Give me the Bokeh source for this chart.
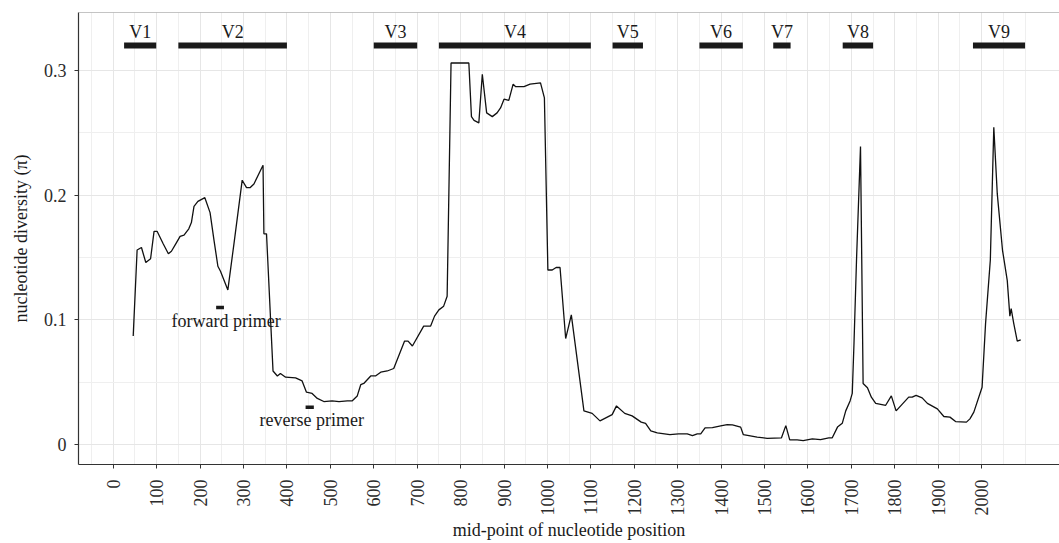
import math
from bokeh.plotting import figure
from bokeh.models import Range1d, FixedTicker, ColumnDataSource, Span
from bokeh.core.properties import value
from bokeh.embed import file_html
from bokeh.resources import INLINE

# ---- data ----
position = [46, 55, 65, 75, 86, 94, 101, 115, 127, 134, 144, 154, 163, 174, 180, 186, 195, 211, 223, 232,
            241, 247, 264, 278, 297, 307, 315, 324, 345, 347, 353, 368, 378, 385, 397, 420, 435, 445, 458, 470,
            485, 504, 520, 539, 550, 562, 570, 577, 593, 604, 616, 631, 646, 671, 679, 689, 715, 731, 740, 750,
            761, 769, 778, 819, 825, 831, 842, 850, 860, 873, 884, 892, 900, 911, 921, 927, 946, 960, 984, 993,
            1001, 1011, 1020, 1029, 1042, 1055, 1084, 1103, 1121, 1149, 1159, 1178, 1195, 1216, 1226, 1238, 1253, 1282, 1302, 1322,
            1334, 1345, 1353, 1363, 1380, 1399, 1414, 1426, 1445, 1451, 1464, 1483, 1506, 1539, 1549, 1558, 1575, 1589, 1610, 1629,
            1648, 1656, 1668, 1679, 1687, 1697, 1702, 1706, 1712, 1721, 1727, 1737, 1746, 1756, 1779, 1792, 1803, 1832, 1840, 1849,
            1863, 1875, 1898, 1913, 1927, 1940, 1965, 1973, 1982, 2001, 2009, 2020, 2028, 2036, 2048, 2059, 2065, 2068, 2074, 2082,
            2090]
diversity = [0.087, 0.156, 0.158, 0.146, 0.149, 0.171, 0.171, 0.161, 0.153, 0.155, 0.161, 0.167, 0.168, 0.173, 0.178, 0.191, 0.195, 0.198, 0.186, 0.164,
             0.143, 0.139, 0.124, 0.161, 0.212, 0.206, 0.206, 0.209, 0.224, 0.169, 0.169, 0.059, 0.055, 0.057, 0.054, 0.0535, 0.051, 0.042, 0.041, 0.037,
             0.0345, 0.035, 0.0345, 0.035, 0.035, 0.039, 0.048, 0.049, 0.055, 0.055, 0.058, 0.059, 0.061, 0.083, 0.083, 0.079, 0.095, 0.095, 0.103, 0.108,
             0.111, 0.119, 0.306, 0.306, 0.263, 0.260, 0.258, 0.297, 0.266, 0.263, 0.266, 0.270, 0.277, 0.276, 0.289, 0.287, 0.287, 0.289, 0.290, 0.278,
             0.140, 0.140, 0.142, 0.142, 0.085, 0.104, 0.027, 0.025, 0.019, 0.024, 0.031, 0.025, 0.023, 0.018, 0.017, 0.011, 0.0094, 0.008, 0.0086, 0.0086,
             0.0072, 0.0086, 0.0086, 0.0134, 0.0136, 0.015, 0.016, 0.0158, 0.014, 0.008, 0.0072, 0.006, 0.005, 0.0054, 0.0152, 0.0037, 0.0037, 0.0032, 0.0045, 0.004,
             0.0054, 0.0054, 0.014, 0.017, 0.027, 0.035, 0.041, 0.081, 0.150, 0.239, 0.049, 0.0455, 0.038, 0.033, 0.0315, 0.039, 0.027, 0.038, 0.038, 0.0395,
             0.0374, 0.033, 0.0286, 0.0225, 0.022, 0.0184, 0.018, 0.0206, 0.026, 0.046, 0.097, 0.148, 0.2545, 0.201, 0.156, 0.1315, 0.103, 0.109, 0.097, 0.083,
             0.084]

region_names = ["V1", "V2", "V3", "V4", "V5", "V6", "V7", "V8", "V9"]
region_start = [25, 150, 600, 750, 1150, 1350, 1520, 1680, 1980]
region_end = [99, 400, 700, 1100, 1220, 1450, 1560, 1750, 2100]

primer_names = ["forward primer", "reverse primer"]
primer_start = [237, 443]
primer_end = [255, 462]
primer_y = [0.11, 0.03]
primer_label_x = [260, 457]
primer_label_y = [0.099, 0.0195]

x_ticks = list(range(0, 2001, 100))
x_tick_labels = [str(t) for t in x_ticks]
y_ticks = [0, 0.1, 0.2, 0.3]
y_tick_labels = ["0", "0.1", "0.2", "0.3"]

X_TITLE = "mid-point of nucleotide position"
Y_TITLE = "nucleotide diversity (\u03c0)"

FONT = "Liberation Serif"
X_MIN, X_MAX = -80, 2179.3
Y_MIN, Y_MAX = -0.016, 0.3465

p = figure(width=1059, height=543, output_backend="svg", toolbar_location=None,
           x_range=Range1d(X_MIN, X_MAX), y_range=Range1d(Y_MIN, Y_MAX),
           min_border_left=78, min_border_right=0, min_border_top=12, min_border_bottom=79)
p.background_fill_color = "white"
p.border_fill_color = "white"
p.outline_line_color = None

# top panel border
p.add_layout(Span(location=Y_MAX, dimension="width", line_color="#8a8a8a", line_width=1.2))

# grids
p.xgrid.ticker = FixedTicker(ticks=x_ticks, minor_ticks=list(range(-50, 2101, 50)))
p.ygrid.ticker = FixedTicker(ticks=y_ticks, minor_ticks=[0.05, 0.15, 0.25])
for g in (p.xgrid, p.ygrid):
    g.grid_line_color = "#e6e6e6"
    g.grid_line_width = 1
    g.minor_grid_line_color = "#efefef"
    g.minor_grid_line_width = 1

# axes
p.xaxis.ticker = FixedTicker(ticks=x_ticks)
p.xaxis.major_label_overrides = {t: l for t, l in zip(x_ticks, x_tick_labels)}
p.xaxis.major_label_orientation = math.pi / 2
p.yaxis.ticker = FixedTicker(ticks=y_ticks)
p.yaxis.major_label_overrides = {t: l for t, l in zip(y_ticks, y_tick_labels)}
for ax in (p.xaxis[0], p.yaxis[0]):
    ax.axis_line_color = "#333333"
    ax.axis_line_width = 1.2
    ax.major_tick_line_color = "#333333"
    ax.major_tick_out = 4
    ax.major_tick_in = 0
    ax.minor_tick_line_color = None
    ax.major_label_text_font = FONT
    ax.major_label_text_font_size = "18px"
    ax.major_label_text_color = "#2b2b2b"
    ax.axis_label_text_font = FONT
    ax.axis_label_text_font_size = "18px"
    ax.axis_label_text_font_style = "normal"
    ax.axis_label_text_color = "#1a1a1a"
p.xaxis.major_label_standoff = 11
p.xaxis.axis_label_standoff = 1
p.xaxis.axis_label = X_TITLE
p.yaxis.major_label_standoff = 8
p.yaxis.axis_label_standoff = 10
p.yaxis.axis_label = Y_TITLE

# diversity line
p.line(position, diversity, line_color="#111111", line_width=1.3)

# variable regions
reg = ColumnDataSource(dict(name=region_names, x0=region_start, x1=region_end,
                            xm=[(a + b) / 2 for a, b in zip(region_start, region_end)],
                            y=[0.32] * len(region_names), yl=[0.3305] * len(region_names)))
p.segment(x0="x0", y0="y", x1="x1", y1="y", source=reg, line_color="#1a1a1a", line_width=6, line_cap="butt")
p.text(x="xm", y="yl", text="name", source=reg, text_font=value(FONT), text_font_size="18px",
       text_align="center", text_baseline="middle", text_color="#1a1a1a")

# primers
pr = ColumnDataSource(dict(name=primer_names, x0=primer_start, x1=primer_end, y=primer_y,
                           lx=primer_label_x, ly=primer_label_y))
p.segment(x0="x0", y0="y", x1="x1", y1="y", source=pr, line_color="#1a1a1a", line_width=3.5, line_cap="butt")
p.text(x="lx", y="ly", text="name", source=pr, text_font=value(FONT), text_font_size="18px",
       text_align="center", text_baseline="middle", text_color="#1a1a1a")

open("out.html", "w").write(file_html(p, INLINE))
